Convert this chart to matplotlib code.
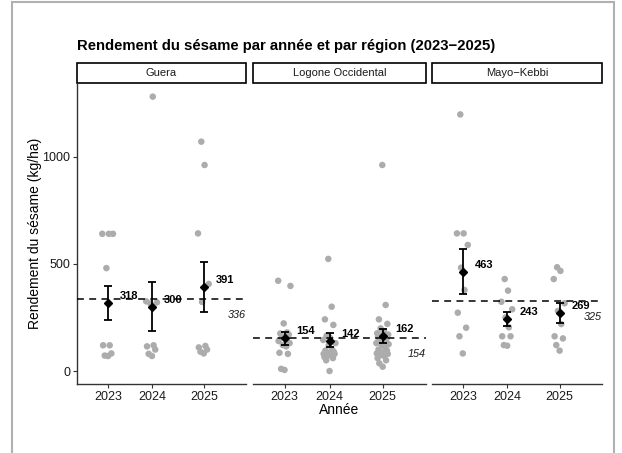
import numpy as np
import matplotlib
matplotlib.use("Agg")
import matplotlib.pyplot as plt
from matplotlib.patches import Rectangle

plt.rcParams['font.family'] = ['Liberation Sans', 'DejaVu Sans']

years = ['2023', '2024', '2025']
year_pos = [0, 1, 2.18]
regions = ['Guera', 'Logone Occidental', 'Mayo\u2212Kebbi']

# individual yields (kg/ha)
guera = [
    [640, 640, 640, 480, 120, 120, 82, 72, 70],
    [1280, 325, 320, 315, 120, 115, 100, 80, 70],
    [1070, 961, 642, 406, 322, 117, 110, 100, 90, 82],
]
logone = [
    [421, 397, 222, 180, 175, 170, 160, 150, 140, 130, 121, 115, 85, 80, 10, 5],
    [523, 300, 241, 215, 165, 155, 145, 130, 120, 100, 95, 90, 85, 85, 80, 80,
     75, 70, 65, 60, 50, 0],
    [961, 308, 241, 220, 199, 185, 176, 170, 165, 160, 157, 150, 145, 140, 130,
     125, 120, 110, 100, 95, 90, 85, 82, 80, 75, 70, 60, 50, 36, 20],
]
mayo = [
    [1197, 642, 642, 588, 482, 378, 272, 202, 162, 82],
    [429, 375, 323, 288, 250, 204, 162, 162, 121, 118],
    [484, 467, 429, 316, 280, 219, 162, 152, 121, 95],
]
points = [guera, logone, mayo]

means = [[318, 300, 391], [154, 142, 162], [463, 243, 269]]
ci_low = [[238, 188, 274], [121, 110, 129], [359, 211, 222]]
ci_high = [[398, 417, 510], [184, 176, 197], [568, 277, 316]]
region_mean = [336, 154, 325]

W, H = 622, 453
fig = plt.figure(figsize=(W / 100, H / 100), dpi=100)

# light grey frame around the figure
fig.patches.append(Rectangle((11.5 / W, -0.05), 602.5 / W, 1.05 - 2.5 / H,
                             transform=fig.transFigure, fill=False,
                             edgecolor='#b0b0b0', lw=1.5))

panel_x = [(77.3, 245.7), (253.0, 425.7), (431.7, 602.0)]
top, bottom = 82.7, 384.3
xlim = (-0.70, 3.135)
ylim = (-62, 1345)


def vdc(n):
    # van der Corput sequence, base 2
    v, d = 0.0, 1.0
    while n:
        d *= 2
        n, rem = divmod(n, 2)
        v += rem / d
    return v


def quasi_offsets(vals, width=0.15):
    # quasirandom horizontal spread, ordered by value
    order = np.argsort(vals)
    offs = np.zeros(len(vals))
    for k, i in enumerate(order):
        offs[i] = (vdc(k + 1) - 0.5) * 2 * width
    return offs


for r, (x0, x1) in enumerate(panel_x):
    ax = fig.add_axes([x0 / W, 1 - bottom / H, (x1 - x0) / W, (bottom - top) / H])
    ax.set_xlim(*xlim)
    ax.set_ylim(*ylim)

    for j, vals in enumerate(points[r]):
        vals = np.array(vals, dtype=float)
        xs = year_pos[j] + quasi_offsets(vals)
        ax.scatter(xs, vals, s=22, color='#acacac', edgecolors='none', zorder=2)

    ax.axhline(region_mean[r], color='black', lw=1.1, dashes=(4.5, 3.5), zorder=3)

    for j in range(3):
        m = means[r][j]
        ax.errorbar(year_pos[j], m,
                    yerr=[[m - ci_low[r][j]], [ci_high[r][j] - m]],
                    fmt='D', color='black', ms=4.5, lw=1.3, capsize=3,
                    capthick=1.3, zorder=4)
        ax.text(year_pos[j] + 0.27, m + 32, str(m), fontsize=8,
                fontweight='bold', ha='left', va='center', zorder=5)

    ax.text(xlim[1], region_mean[r] - 75, str(region_mean[r]), fontsize=7.8,
            style='italic', ha='right', va='center', color='#1a1a1a')

    ax.set_xticks(year_pos)
    ax.set_xticklabels(years)
    for s in ['top', 'right']:
        ax.spines[s].set_visible(False)
    ax.spines['bottom'].set_color('#333333')
    ax.spines['bottom'].set_linewidth(1.0)
    ax.tick_params(axis='x', length=3, width=0.8, color='#333333',
                   labelsize=9, labelcolor='#1a1a1a', pad=2)
    if r == 0:
        ax.spines['left'].set_color('#333333')
        ax.spines['left'].set_linewidth(1.0)
        ax.set_yticks([0, 500, 1000])
        ax.tick_params(axis='y', length=3, width=0.8, color='#333333',
                       labelsize=9, labelcolor='#1a1a1a', pad=2)
    else:
        ax.spines['left'].set_visible(False)
        ax.set_yticks([])

    # facet strip
    sh = 20 / (bottom - top)
    ax.add_patch(Rectangle((0, 1.0), 1, sh, transform=ax.transAxes,
                           facecolor='white', edgecolor='black', lw=1.2,
                           clip_on=False))
    ax.text(0.5, 1 + sh / 2, regions[r], transform=ax.transAxes, fontsize=8,
            ha='center', va='center', color='#1a1a1a')

fig.text(77 / W, 1 - 46 / H,
         "Rendement du s\u00e9same par ann\u00e9e et par r\u00e9gion (2023\u22122025)",
         fontsize=10.7, fontweight='bold', ha='left', va='center')
fig.text(339.5 / W, 1 - 410 / H, "Ann\u00e9e", fontsize=10, ha='center', va='center')
fig.text(35 / W, 1 - (top + bottom) / 2 / H, "Rendement du s\u00e9same (kg/ha)",
         fontsize=10, rotation=90, ha='center', va='center')

fig.savefig('out.png', dpi=100)
